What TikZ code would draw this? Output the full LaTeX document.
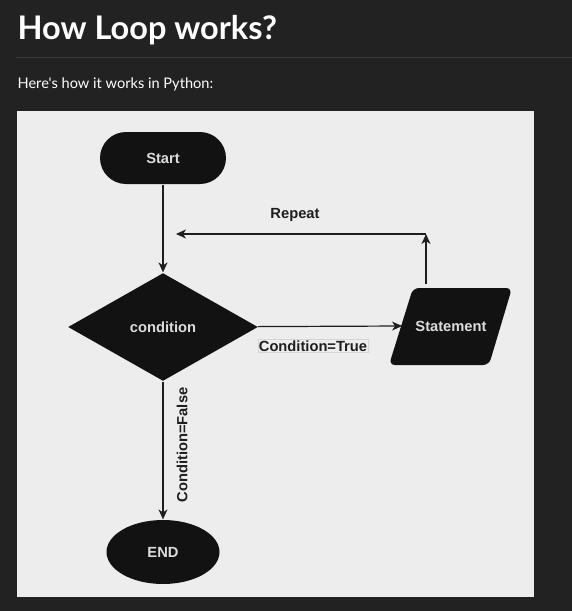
\documentclass[tikz,border=0pt]{standalone}
\usepackage{fontspec}
\setmainfont{Liberation Sans}
\newfontfamily\headfont{Lato}
\usetikzlibrary{arrows.meta,shapes.geometric,positioning}
\definecolor{pagebg}{HTML}{222222}
\definecolor{panelbg}{HTML}{EDEDED}
\definecolor{shapefill}{HTML}{121212}
\definecolor{shapetext}{HTML}{DCDCDC}
\definecolor{rulegray}{HTML}{3C3C3C}
\definecolor{inkline}{HTML}{1E1E1E}
\definecolor{tagframe}{HTML}{D6D6D6}

\begin{document}
\begin{tikzpicture}[x=1pt,y=-1pt,line width=1.2pt,
  flowtext/.style={font=\fontsize{14.7}{17}\selectfont\bfseries},
  blob/.style={flowtext,fill=shapefill,text=shapetext,inner sep=0pt},
  edge/.style={draw=inkline,line width=1.2pt,-{Stealth[length=10pt,width=9pt,inset=3pt]}},
  tag/.style={flowtext,text=inkline,inner sep=1pt}]
\path[use as bounding box,fill=pagebg] (0,0) rectangle (572,611);
% page heading
\node[anchor=base west,inner sep=0pt,text=white,font=\headfont\fontsize{32.5}{38}\selectfont\bfseries] (title) at (17,39) {How Loop works?};
\draw[rulegray,line width=1pt] (16,57) -- (572,57);
\node[anchor=base west,inner sep=0pt,text=white,font=\headfont\fontsize{14.6}{17}\selectfont] (intro) at (17,88) {Here's how it works in Python:};
\fill[panelbg] (17,111) rectangle (534,597);
% flowchart
\node[blob,rectangle,rounded corners=26pt,minimum width=126pt,minimum height=52pt] (start) at (163,158) {Start};
\node[blob,diamond,minimum width=190pt,minimum height=108pt] (cond) at (163,327) {condition};
\fill[shapefill,rounded corners=6pt] (389,365) -- (413,288) -- (512,288) -- (489,365) -- cycle;
\node[blob,fill=none] (stmt) at (451,326) {Statement};
\node[blob,ellipse,minimum width=113pt,minimum height=64pt] (end) at (163,552) {END};
\coordinate (stmtedge) at (402,326);
\coordinate (stmttop) at (426,284);
\coordinate (bend) at (426,234);
\coordinate (loopback) at (176,234);
\draw[edge] (start) -- (cond);
\draw[edge] (cond) -- (stmtedge);
\node[tag,draw=tagframe,line width=.8pt,fill=panelbg] (truetag) at (313,346) {Condition=True};
\draw[edge] (stmttop) -- (bend);
\draw[edge] (bend) -- (loopback);
\node[tag] (repeat) at (295,215) {Repeat};
\draw[edge] (cond) -- (end);
\node[tag,rotate=90] (falsetag) at (182,445) {Condition=False};
\end{tikzpicture}
\end{document}
